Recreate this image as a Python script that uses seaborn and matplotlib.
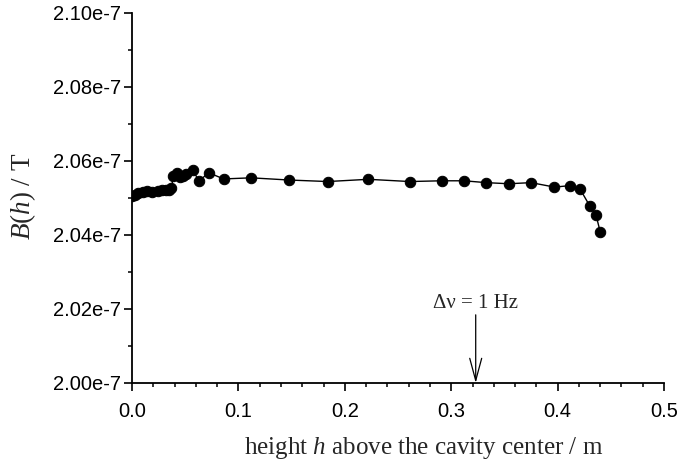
import numpy as np
import pandas as pd
import matplotlib
matplotlib.use("Agg")
import matplotlib.pyplot as plt
from matplotlib.ticker import MultipleLocator, FuncFormatter
import seaborn as sns

# height above cavity center (m) and field B(h) in units of 1e-7 T
height = [0.000, 0.003, 0.006, 0.010, 0.014, 0.019, 0.024, 0.028, 0.032, 0.035,
          0.037, 0.039, 0.042, 0.045, 0.048, 0.051, 0.057, 0.063, 0.072, 0.086,
          0.112, 0.148, 0.184, 0.222, 0.261, 0.291, 0.312, 0.333, 0.354, 0.375,
          0.397, 0.412, 0.421, 0.430, 0.436, 0.440]
field = [2.0504, 2.0508, 2.0512, 2.0515, 2.0518, 2.0516, 2.0519, 2.0521, 2.0522, 2.0522,
         2.0527, 2.0560, 2.0568, 2.0556, 2.0558, 2.0563, 2.0576, 2.0545, 2.0568, 2.0551,
         2.0554, 2.0548, 2.0544, 2.0550, 2.0544, 2.0546, 2.0546, 2.0541, 2.0538, 2.0541,
         2.0529, 2.0533, 2.0524, 2.0479, 2.0454, 2.0408]

arrow_x = 0.323
arrow_label = "Δν = 1 Hz"

df = pd.DataFrame({"h": height, "B": field})

sns.set_style("ticks")
plt.rcParams["font.family"] = ["Liberation Sans", "DejaVu Sans"]
plt.rcParams["mathtext.fontset"] = "custom"
plt.rcParams["mathtext.rm"] = "Liberation Serif"
plt.rcParams["mathtext.it"] = "Liberation Serif:italic"

fig = plt.figure(figsize=(6.79, 4.70), dpi=100)
ax = fig.add_axes([0.1944, 0.1852, 0.7836, 0.7878])

sns.lineplot(data=df, x="h", y="B", sort=False, estimator=None, ax=ax,
             color="black", linewidth=1.0, marker="o", markersize=7.5,
             markeredgecolor="black", markerfacecolor="black")

ax.set_xlim(0, 0.5)
ax.set_ylim(2.00, 2.10)
ax.xaxis.set_major_locator(MultipleLocator(0.1))
ax.xaxis.set_minor_locator(MultipleLocator(0.02))
ax.yaxis.set_major_locator(MultipleLocator(0.02))
ax.yaxis.set_minor_locator(MultipleLocator(0.01))
ax.xaxis.set_major_formatter(FuncFormatter(lambda v, p: f"{v:.1f}"))
ax.yaxis.set_major_formatter(FuncFormatter(lambda v, p: f"{v:.2f}e-7"))

ax.tick_params(which="major", direction="out", length=6, width=1.2,
               labelsize=14.5, colors="black")
ax.tick_params(axis="x", which="major", pad=8)
ax.tick_params(axis="y", which="major", pad=2)
ax.tick_params(which="minor", direction="out", length=3.2, width=1.1, colors="black")
for s in ["left", "bottom"]:
    ax.spines[s].set_linewidth(1.3)
    ax.spines[s].set_color("black")
sns.despine(ax=ax)

ax.set_xlabel("height $h$ above the cavity center / m", fontsize=18,
              family="Liberation Serif")
ax.xaxis.set_label_coords(0.548, -0.14)
ax.set_ylabel("$B(h)$ / T", fontsize=19.5, family="Liberation Serif")
ax.yaxis.set_label_coords(-0.177, 0.505)

ax.annotate("", xy=(arrow_x, 2.0), xytext=(arrow_x, 2.0184),
            arrowprops=dict(arrowstyle="->,head_length=1.6,head_width=0.43",
                            color="black", lw=0.9, shrinkA=0, shrinkB=0))
ax.text(arrow_x, 2.0203, arrow_label, ha="center", va="baseline", fontsize=15,
        family="Liberation Serif")

fig.savefig("out.png", dpi=100)
